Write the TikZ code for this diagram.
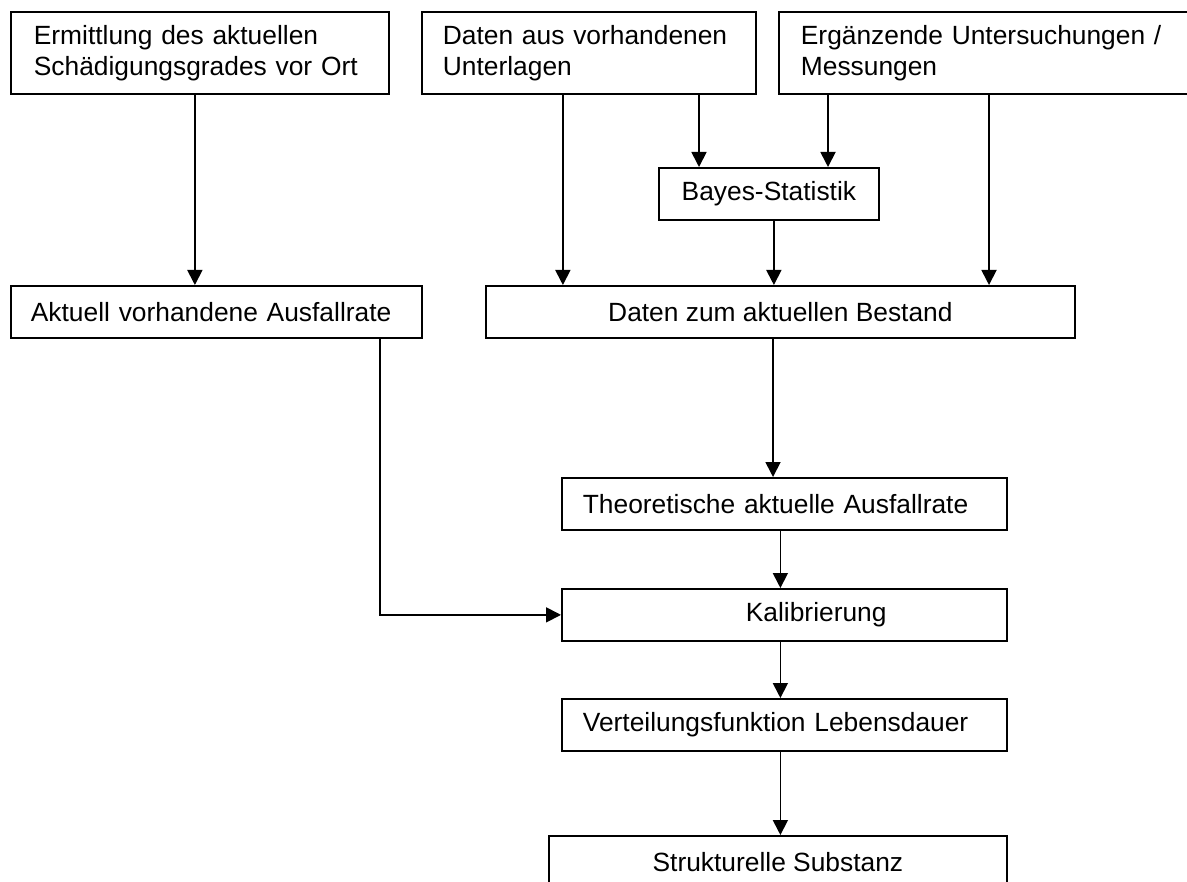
\documentclass[tikz,border=0pt]{standalone}
\usepackage{fontspec}
\setmainfont{Liberation Sans}
\usetikzlibrary{arrows.meta}
\tikzset{
  kasten/.style={draw, line width=1pt, rectangle, anchor=north west, inner ysep=0pt, minimum height=1.04cm, font=\fontsize{15}{17.5}\selectfont},
  links/.style={align=left},
  pfeil/.style={line width=1pt, -{Triangle[length=0.3cm,width=0.3cm]}}
}
\begin{document}
\begin{tikzpicture}[x=0.2mm, y=-0.2mm]
    \clip (0,0) rectangle (1187,882);
    %kaesten oben
    \node[kasten, links, minimum height=1.64cm, text width=6.64cm, inner xsep=0.46cm] (ermittlung) at (10,11) {Ermittlung des aktuellen\\Schädigungsgrades vor Ort};
    \node[kasten, links, minimum height=1.64cm, text width=5.84cm, inner xsep=0.42cm] (unterlagen) at (421,11) {Daten aus vorhandenen\\Unterlagen};
    \node[kasten, links, minimum height=1.64cm, text width=7.56cm, inner xsep=0.44cm] (messungen) at (778,11) {Ergänzende Untersuchungen /\\Messungen};
    %bayes
    \node[kasten, minimum width=4.4cm] (bayes) at (658,167) {Bayes-Statistik};
    %%%%%%%%%%%%%%%%%%%%%%%%%%%%%%%%%%%%%%%%%%%%%%%%%%%%%%%%%%%%%%%%%%%%%%%%%%
    %zweite reihe
    \node[kasten, links, text width=7.42cm, inner xsep=0.4cm] (ausfallrate) at (10,285) {Aktuell vorhandene Ausfallrate};
    \node[kasten, minimum width=11.78cm] (bestand) at (485,285) {Daten zum aktuellen Bestand};
    %%%%%%%%%%%%%%%%%%%%%%%%%%%%%%%%%%%%%%%%%%%%%%%%%%%%%%%%%%%%%%%%%%%%%%%%%%
    %kette unten
    \node[kasten, links, text width=8.06cm, inner xsep=0.42cm] (theorie) at (561,477) {Theoretische aktuelle Ausfallrate};
    \node[kasten, links, text width=8.06cm, inner xsep=0.42cm] (kalibrierung) at (561,588) {\hspace*{3.26cm}Kalibrierung};
    \node[kasten, links, text width=8.06cm, inner xsep=0.42cm] (verteilung) at (561,698) {Verteilungsfunktion Lebensdauer};
    \node[kasten, minimum width=9.16cm] (substanz) at (548,835) {Strukturelle Substanz};
    %%%%%%%%%%%%%%%%%%%%%%%%%%%%%%%%%%%%%%%%%%%%%%%%%%%%%%%%%%%%%%%%%%%%%%%%%%
    %pfeile
    \draw[pfeil] ([xshift=-0.1cm]ermittlung.south) -- ([xshift=-0.1cm]ermittlung.south |- ausfallrate.north);
    \draw[pfeil] ([xshift=-0.52cm]unterlagen.south) -- ([xshift=-0.52cm]unterlagen.south |- bestand.north);
    \draw[pfeil] ([xshift=0.82cm]bayes.north west |- unterlagen.south) -- ([xshift=0.82cm]bayes.north west);
    \draw[pfeil] ([xshift=3.4cm]bayes.north west |- messungen.south) -- ([xshift=3.4cm]bayes.north west);
    \draw[pfeil] ([xshift=4.22cm]messungen.south west) -- ([xshift=4.22cm]messungen.south west |- bestand.north);
    \draw[pfeil] ([xshift=0.1cm]bayes.south) -- ([xshift=0.1cm]bayes.south |- bestand.north);
    \draw[pfeil] ([xshift=4.24cm]theorie.north west |- bestand.south) -- ([xshift=4.24cm]theorie.north west);
    \draw[pfeil] ([xshift=-0.08cm]theorie.south) -- ([xshift=-0.08cm]theorie.south |- kalibrierung.north);
    \draw[pfeil] ([xshift=-0.86cm]ausfallrate.south east) |- (kalibrierung.west);
    \draw[pfeil] ([xshift=-0.08cm]kalibrierung.south) -- ([xshift=-0.08cm]kalibrierung.south |- verteilung.north);
    \draw[pfeil] ([xshift=-0.08cm]verteilung.south) -- ([xshift=-0.08cm]verteilung.south |- substanz.north);
\end{tikzpicture}
\end{document}
